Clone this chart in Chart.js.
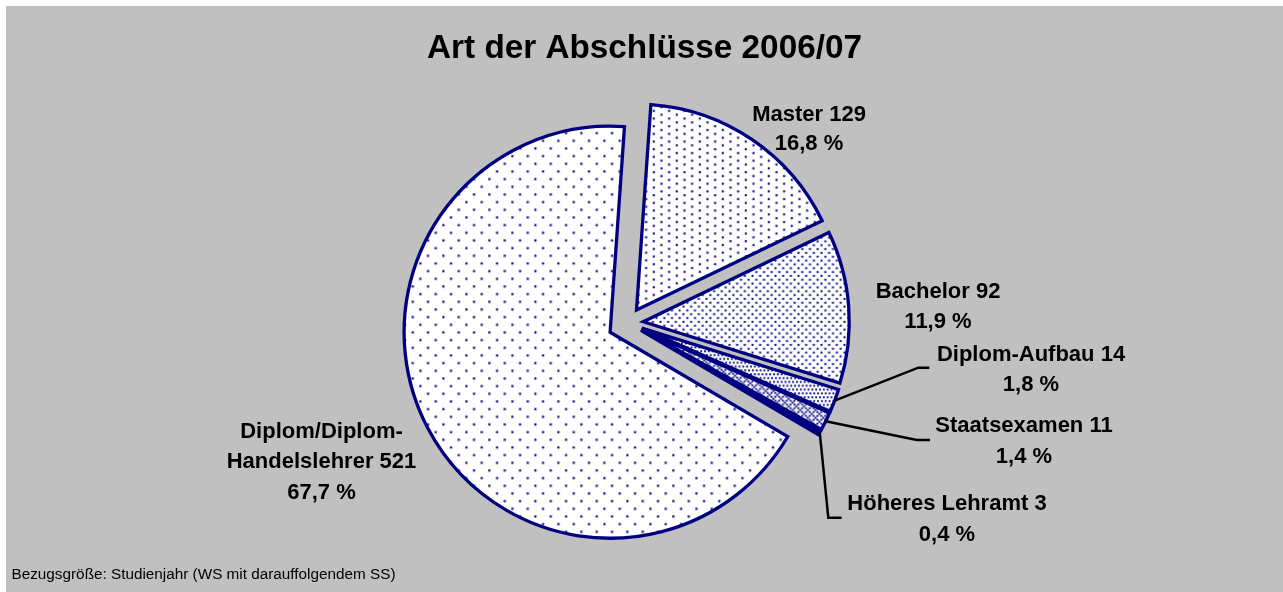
<!DOCTYPE html>
<html><head><meta charset="utf-8">
<script src="https://cdn.jsdelivr.net/npm/chart.js@4"></script>
<style>html,body{margin:0;padding:0;background:#fff;}canvas{display:block;}</style>
</head><body>
<canvas id="c" width="1283" height="592"></canvas>
<script>
// ---- data ----
const categories = ['Master', 'Bachelor', 'Diplom-Aufbau', 'Staatsexamen', 'Höheres Lehramt', 'Diplom/Diplom-Handelslehrer'];
const values = [129, 92, 14, 11, 3, 521];
const labelNames = ['Master', 'Bachelor', 'Diplom-Aufbau', 'Staatsexamen', 'Höheres Lehramt', 'Diplom/Diplom-\nHandelslehrer'];
const titleText = 'Art der Abschlüsse 2006/07';
const footnoteText = 'Bezugsgröße: Studienjahr (WS mit darauffolgendem SS)';

// ---- styles ----
const NAVY = '#000080';
const DOT = '#0c0c88';
const explode = [15.5, 15.5, 15, 15, 15, 20];
const labelLayout = [
  {x: 809, y: 120.7, lh: 29.5},
  {x: 938, y: 298, lh: 30},
  {x: 1031, y: 360.7, lh: 30.3, leader: [[918.3, 367.7], [929.3, 367.7]]},
  {x: 1024, y: 431.7, lh: 31, leader: [[916.7, 440], [930, 440]]},
  {x: 947, y: 510, lh: 30.7, leader: [[828.3, 517.7], [841.7, 517.7]]},
  {x: 321.5, y: 437.7, lh: 30.6}
];
const patternRows = {
  p5:  ['10000000','00000000','00000000','00000000','00001000','00000000','00000000','00000000'],
  p10: ['10000000','00000000','00001000','00000000','10000000','00000000','00001000','00000000'],
  p20: ['10001000','00000000','00100010','00000000','10001000','00000000','00100010','00000000'],
  p25: ['10101010','00000000','01010101','00000000','10101010','00000000','01010101','00000000'],
  cross: ['10001000','01010101','00100010','01010101','10001000','01010101','00100010','01010101']
};
function excelPattern(rows, color, dot) {
  const s = 46 / 24, n = 3, size = 46;
  const c = document.createElement('canvas');
  c.width = size; c.height = size;
  const g = c.getContext('2d');
  g.fillStyle = '#ffffff'; g.fillRect(0, 0, size, size);
  g.fillStyle = color;
  for (let ty = 0; ty < n; ty++) for (let tx = 0; tx < n; tx++)
    for (let r = 0; r < 8; r++) for (let k = 0; k < 8; k++)
      if (rows[r][k] === '1') g.fillRect((tx * 8 + k) * s, (ty * 8 + r) * s, dot, dot);
  return g.createPattern(c, 'repeat');
}
const fills = [
  excelPattern(patternRows.p10, DOT, 2.1),
  excelPattern(patternRows.p20, DOT, 2.0),
  excelPattern(patternRows.p25, DOT, 1.9),
  excelPattern(patternRows.cross, DOT, 1.92),
  NAVY,
  excelPattern(patternRows.p5, DOT, 2.2)
];

const total = values.reduce((a, b) => a + b, 0);
const pct = v => (v / total * 100).toFixed(1).replace('.', ',') + ' %';

const excelPie = {
  id: 'excelPie',
  beforeDraw(chart) {
    const ctx = chart.ctx;
    ctx.save();
    ctx.fillStyle = '#ffffff'; ctx.fillRect(0, 0, chart.width, chart.height);
    ctx.fillStyle = '#c0c0c0'; ctx.fillRect(6, 6, chart.width - 6, chart.height - 6);
    ctx.restore();
  },
  beforeDatasetDraw(chart, args) {
    const ctx = chart.ctx;
    args.meta.data.forEach((arc, i) => {
      const mid = (arc.startAngle + arc.endAngle) / 2;
      ctx.save();
      ctx.translate(Math.cos(mid) * explode[i], Math.sin(mid) * explode[i]);
      arc.draw(ctx);
      ctx.restore();
    });
    return false;
  },
  afterDatasetsDraw(chart) {
    const ctx = chart.ctx;
    const meta = chart.getDatasetMeta(0);
    ctx.save();
    // leader lines
    ctx.strokeStyle = '#000'; ctx.lineWidth = 2.5; ctx.lineJoin = 'miter';
    meta.data.forEach((arc, i) => {
      const L = labelLayout[i];
      if (!L.leader) return;
      const mid = (arc.startAngle + arc.endAngle) / 2;
      const d = explode[i] + arc.outerRadius;
      ctx.beginPath();
      ctx.moveTo(arc.x + Math.cos(mid) * d, arc.y + Math.sin(mid) * d);
      L.leader.forEach(p => ctx.lineTo(p[0], p[1]));
      ctx.stroke();
    });
    // labels
    ctx.fillStyle = '#000';
    ctx.textAlign = 'center'; ctx.textBaseline = 'alphabetic';
    ctx.font = 'bold 22px "Liberation Sans", Arial, sans-serif';
    values.forEach((v, i) => {
      const L = labelLayout[i];
      const lines = (labelNames[i] + ' ' + v).split('\n');
      lines.push(pct(v));
      lines.forEach((t, j) => ctx.fillText(t, L.x, L.y + j * L.lh));
    });
    // title
    ctx.font = 'bold 33.3px "Liberation Sans", Arial, sans-serif';
    ctx.fillText(titleText, 644.5, 58.3);
    // footnote
    ctx.textAlign = 'left';
    ctx.font = '15.3px "Liberation Sans", Arial, sans-serif';
    ctx.fillText(footnoteText, 11.5, 579);
    ctx.restore();
  }
};

new Chart(document.getElementById('c'), {
  type: 'pie',
  data: {
    labels: categories,
    datasets: [{
      data: values,
      backgroundColor: fills,
      borderColor: NAVY,
      borderWidth: 3.3,
      borderJoinStyle: 'miter',
      borderAlign: 'center'
    }]
  },
  options: {
    responsive: false,
    animation: false,
    rotation: 4,
    radius: 206,
    layout: {padding: {left: 300, right: 327.4, top: 100, bottom: 46.2}},
    plugins: {legend: {display: false}, tooltip: {enabled: false}, title: {display: false}},
    events: []
  },
  plugins: [excelPie]
});
</script>
</body></html>
